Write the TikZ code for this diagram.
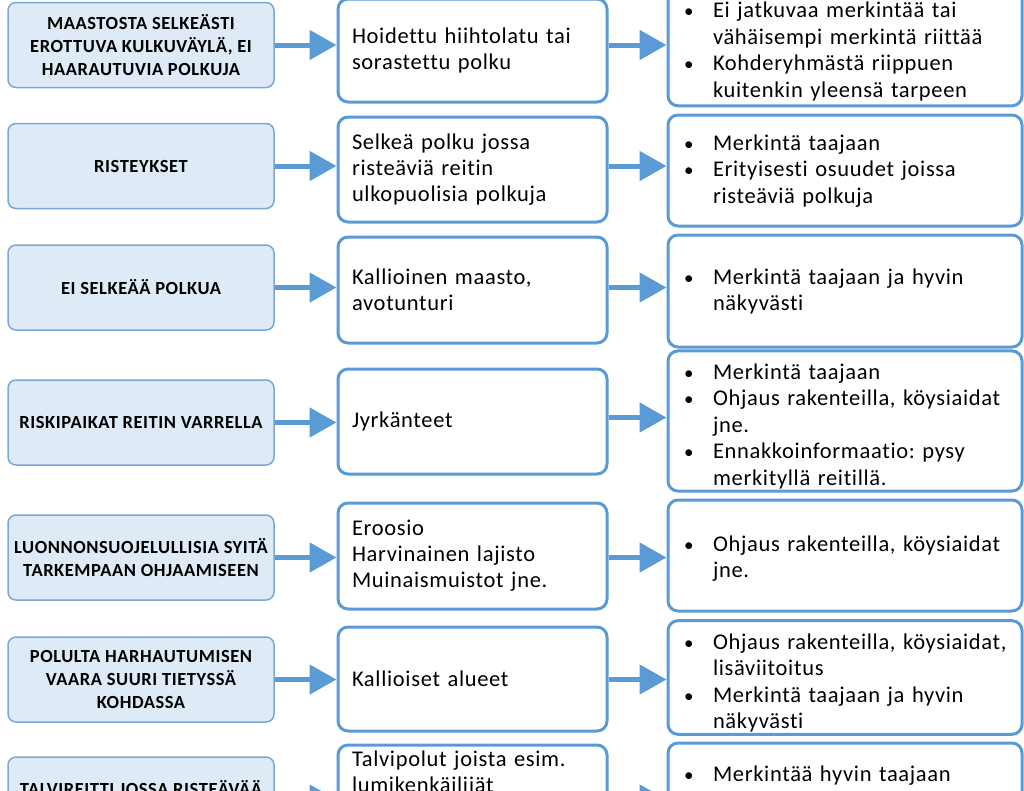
\documentclass[tikz,border=0pt]{standalone}
\usepackage{fontspec}
\setmainfont{Carlito}
\newfontfamily\lfont[LetterSpace=3]{Carlito}
\newfontfamily\tfont[LetterSpace=3,Ligatures=NoCommon]{Carlito}
\usetikzlibrary{arrows.meta}
\definecolor{lfill}{HTML}{DEEBF7}
\definecolor{lborder}{HTML}{7BA7D7}
\definecolor{mblue}{HTML}{5B9BD5}
\frenchspacing
\newcommand{\bitem}[1]{\par\noindent\hangindent=40pt\hangafter=1\makebox[40pt][l]{\hspace{11pt}{\fontsize{19}{19}\selectfont•}}#1\par}
\tikzset{
  lbox/.style={rectangle, rounded corners=8pt, draw=lborder, line width=1.5pt, fill=lfill,
    minimum width=266pt, minimum height=85pt, align=center, inner sep=1pt,
    font=\lfont\bfseries\fontsize{18.5}{23}\selectfont},
  mbox/.style={rectangle, rounded corners=10pt, draw=mblue, line width=3pt, fill=white,
    minimum width=269pt, text width=241pt, inner xsep=14pt, inner ysep=2pt, align=left,
    font=\tfont\fontsize{22.5}{26}\selectfont},
  rbox/.style={rectangle, rounded corners=10pt, draw=mblue, line width=3pt, fill=white,
    minimum width=354pt, text width=344pt, inner xsep=5pt, inner ysep=2pt,
    font=\tfont\fontsize{22.5}{26.5}\selectfont\raggedright},
  arr/.style={draw=mblue, line width=5pt, -{Triangle[length=27pt,width=29pt]}},
}
\begin{document}
\begin{tikzpicture}[x=1pt,y=-1pt]
\useasboundingbox (0,0) rectangle (1024,790);
\clip (0,0) rectangle (1024,790);
% left column
\node[lbox] (l1) at (141,45) {MAASTOSTA SELKEÄSTI\\EROTTUVA KULKUVÄYLÄ, EI\\HAARAUTUVIA POLKUJA};
\node[lbox] (l2) at (141,166) {RISTEYKSET};
\node[lbox] (l3) at (141,287.5) {EI SELKEÄÄ POLKUA};
\node[lbox] (l4) at (141,422.5) {RISKIPAIKAT REITIN VARRELLA};
\node[lbox] (l5) at (141,557.5) {LUONNONSUOJELULLISIA SYITÄ\\TARKEMPAAN OHJAAMISEEN};
\node[lbox] (l6) at (141,679.5) {POLULTA HARHAUTUMISEN\\VAARA SUURI TIETYSSÄ\\KOHDASSA};
\node[lbox] (l7) at (141,799.5) {TALVIREITTI JOSSA RISTEÄVÄÄ\\~};
% middle column
\node[mbox, minimum height=103pt] (m1) at (472.5,50.5) {Hoidettu hiihtolatu tai\\sorastettu polku};
\node[mbox, minimum height=105pt] (m2) at (472.5,169.5) {Selkeä polku jossa\\risteäviä reitin\\ulkopuolisia polkuja};
\node[mbox, minimum height=106pt] (m3) at (472.5,290) {Kallioinen maasto,\\avotunturi};
\node[mbox, minimum height=105pt] (m4) at (472.5,421.5) {Jyrkänteet};
\node[mbox, minimum height=106pt] (m5) at (472.5,556) {Eroosio\\Harvinainen lajisto\\Muinaismuistot jne.};
\node[mbox, minimum height=104pt] (m6) at (472.5,679) {Kallioiset alueet};
\node[mbox, minimum height=105pt] (m7) at (472.5,797.5) {Talvipolut joista esim.\\lumikenkäilijät\\~\\~};
% right column
\node[rbox, minimum height=115pt] (r1) at (845,47.5) {\bitem{Ei jatkuvaa merkintää tai\newline vähäisempi merkintä riittää}\bitem{Kohderyhmästä riippuen\newline kuitenkin yleensä tarpeen}\kern3pt};
\node[rbox, minimum height=111pt] (r2) at (845,170.5) {\bitem{Merkintä taajaan}\bitem{Erityisesti osuudet joissa\newline risteäviä polkuja}\kern10pt};
\node[rbox, minimum height=112pt] (r3) at (845,291) {\bitem{Merkintä taajaan ja hyvin\newline näkyvästi}\kern10pt};
\node[rbox, minimum height=136pt] (r4) at (845,421) {\bitem{Merkintä taajaan}\bitem{Ohjaus rakenteilla, köysiaidat\newline jne.}\bitem{Ennakkoinformaatio: pysy\newline merkityllä reitillä.}};
\node[rbox, minimum height=111pt] (r5) at (845,555.5) {\bitem{Ohjaus rakenteilla, köysiaidat\newline jne.}\kern5pt};
\node[rbox, minimum height=111pt] (r6) at (845,677.5) {\bitem{Ohjaus rakenteilla, köysiaidat,\newline lisäviitoitus}\bitem{Merkintä taajaan ja hyvin\newline näkyvästi}};
\node[rbox, minimum height=111pt] (r7) at (845,798.5) {\bitem{Merkintää hyvin taajaan}\noindent\strut\par\noindent\strut};
% arrows
\foreach \i in {1,2,3,5,6,7} {
  \draw[arr] (l\i.east) -- (l\i.east -| m\i.west);
  \draw[arr] (m\i.east |- l\i.east) -- (r\i.west |- l\i.east);
}
\draw[arr] (l4.east) -- (l4.east -| m4.west);
\draw[arr] ([yshift=5pt]m4.east |- l4.east) -- ([yshift=5pt]r4.west |- l4.east);
\end{tikzpicture}
\end{document}
